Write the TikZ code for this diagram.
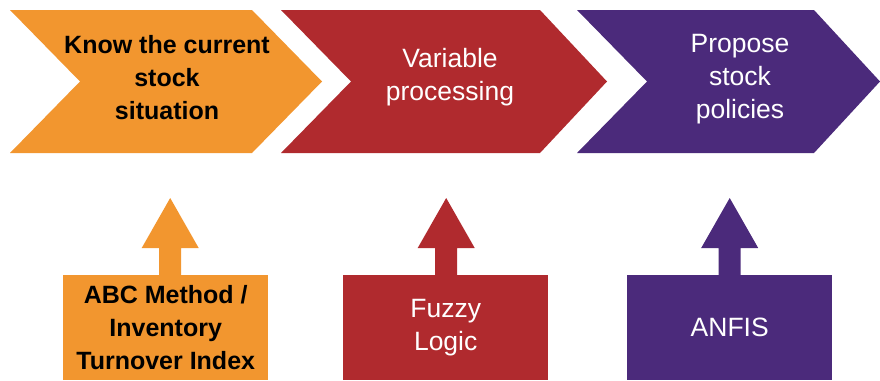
\documentclass[tikz,border=0pt]{standalone}
\usepackage{fontspec}
\setmainfont{Liberation Sans}
\definecolor{stepOrange}{HTML}{F2962F}
\definecolor{stepRed}{HTML}{B02A2E}
\definecolor{stepPurple}{HTML}{4B2A7B}
\tikzset{
  label text/.style={align=center, inner sep=0pt},
  dark text/.style={label text, text=black, font=\fontsize{25}{33}\selectfont\bfseries},
  light text/.style={label text, text=white, font=\fontsize{26.5}{33}\selectfont},
  toolbox/.style={minimum width=205pt, minimum height=105pt, inner sep=0pt},
  pics/uparrow/.style={code={
    \fill[pic actions] (-11,1) -- (-11,-27) -- (-28.5,-27) -- (0,-77)
      -- (28.5,-27) -- (11,-27) -- (11,1) -- cycle;
  }}
}
\begin{document}
\begin{tikzpicture}[x=1pt,y=-1pt]
\useasboundingbox (0,0) rectangle (880,380);

% process chevrons (top row)
\fill[stepOrange] (10,10) -- (252,10) -- (322,81.5) -- (252,153) -- (10,153) -- (80,81.5) -- cycle;
\fill[stepRed] (281,10) -- (540,10) -- (607,81.5) -- (540,153) -- (281,153) -- (351,81.5) -- cycle;
\fill[stepPurple] (577,10) -- (814,10) -- (880,81.5) -- (814,153) -- (577,153) -- (647,81.5) -- cycle;

\node[dark text] (s1) at (167,78) {Know the current\\stock\\situation};
\node[light text] (s2) at (450,77) {Variable\\processing};
\node[light text] (s3) at (740,79) {Propose\\stock\\policies};

% supporting methods (bottom row)
\node[toolbox, fill=stepOrange, dark text, anchor=north west] (m1) at (63,275)
  {ABC Method /\\Inventory\\Turnover Index};
\node[toolbox, fill=stepRed, light text, anchor=north west] (m2) at (343,275)
  {Fuzzy\\Logic};
\node[toolbox, fill=stepPurple, light text, anchor=north west] (m3) at (627,275)
  {ANFIS};

\pic[fill=stepOrange] at ([xshift=4.5pt]m1.north) {uparrow};
\pic[fill=stepRed] at ([xshift=0.5pt]m2.north) {uparrow};
\pic[fill=stepPurple] at ([xshift=0pt]m3.north) {uparrow};
\end{tikzpicture}
\end{document}
